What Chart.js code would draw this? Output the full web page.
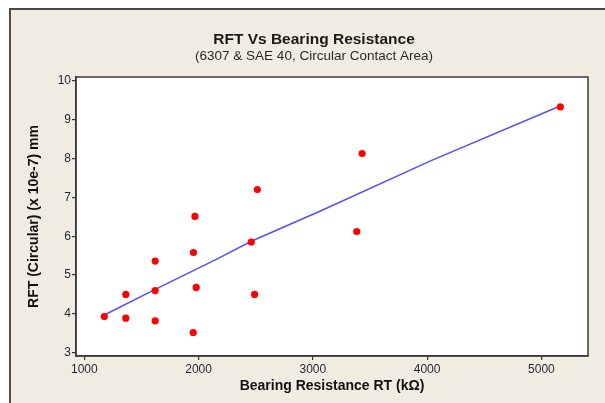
<!DOCTYPE html>
<html>
<head>
<meta charset="utf-8">
<script src="https://cdn.jsdelivr.net/npm/chart.js@4"></script>
<style>
html,body{margin:0;padding:0;background:#fff;}
canvas{display:block;}
</style>
</head>
<body>
<canvas id="c" width="605" height="403"></canvas>
<script>
// Data
const bearingResistance = [1175, 1363, 1363, 1620, 1620, 1620, 1955, 1968, 1979, 1953, 2461, 2514, 2490, 3431, 3384, 5166];
const rftCircular       = [3.93, 4.50, 3.89, 5.36, 4.60, 3.82, 5.58, 6.51, 4.68, 3.52, 5.85, 7.20, 4.50, 8.13, 6.12, 9.33];
// Fitted line
const fitX = [1175, 1620, 2146, 2461, 3066, 4030, 5169];
const fitY = [3.97, 4.63, 5.39, 5.87, 6.65, 7.94, 9.36];
// Tick labels
const xTicks = [1000, 2000, 3000, 4000, 5000];
const yTicks = [3, 4, 5, 6, 7, 8, 9, 10];

const titleText = 'RFT Vs Bearing Resistance';
const subtitleText = '(6307 & SAE 40, Circular Contact Area)';
const xTitle = 'Bearing Resistance RT (kΩ)';
const yTitle = 'RFT (Circular) (x 10e-7) mm';

const FONT = '"Liberation Sans", Arial, sans-serif';

const framePlugin = {
  id: 'frame',
  beforeDraw(chart) {
    const ctx = chart.ctx, W = chart.width, H = chart.height, a = chart.chartArea;
    ctx.save();
    ctx.fillStyle = '#ffffff';
    ctx.fillRect(0, 0, W, H);
    ctx.fillStyle = '#F0ECE2';
    ctx.fillRect(9, 8, W - 9, H - 8);
    ctx.fillStyle = '#4a4a4a';
    ctx.fillRect(9, 8, W - 9, 2);
    ctx.fillRect(9, 8, 2, H - 8);
    ctx.fillStyle = '#ffffff';
    ctx.fillRect(a.left, a.top, a.right - a.left, a.bottom - a.top);
    ctx.restore();
  },
  afterDraw(chart) {
    const ctx = chart.ctx, a = chart.chartArea;
    ctx.save();
    ctx.strokeStyle = '#3a3a3a';
    ctx.lineWidth = 1.5;
    ctx.strokeRect(a.left, a.top, a.right - a.left, a.bottom - a.top);
    ctx.fillStyle = '#1a1a1a';
    ctx.textAlign = 'center';
    ctx.textBaseline = 'middle';
    ctx.font = 'bold 15.5px ' + FONT;
    ctx.fillText(titleText, 314, 40);
    ctx.fillStyle = '#2a2a2a';
    ctx.font = '13.5px ' + FONT;
    ctx.fillText(subtitleText, 314, 56);
    ctx.restore();
  }
};

new Chart(document.getElementById('c'), {
  type: 'scatter',
  data: {
    datasets: [
      {
        label: 'RFT',
        data: bearingResistance.map((x, i) => ({x: x, y: rftCircular[i]})),
        backgroundColor: '#FF0000',
        borderColor: '#FF0000',
        pointRadius: 3.6,
        pointBorderWidth: 0,
        showLine: false
      },
      {
        type: 'line',
        label: 'Fit',
        data: fitX.map((x, i) => ({x: x, y: fitY[i]})),
        borderColor: '#5252FF',
        borderWidth: 1.6,
        pointRadius: 0,
        fill: false,
        tension: 0
      }
    ]
  },
  options: {
    responsive: false,
    animation: false,
    layout: { padding: { left: 10, right: 17, top: 77, bottom: 0 } },
    plugins: {
      legend: { display: false },
      tooltip: { enabled: false },
      title: { display: false }
    },
    scales: {
      x: {
        type: 'linear',
        min: 927, max: 5408,
        afterBuildTicks: s => { s.ticks = xTicks.map(v => ({value: v})); },
        afterFit: s => { s.height = 47; },
        grid: { display: true, drawOnChartArea: false, drawTicks: true, tickLength: 4, color: '#333', lineWidth: 1.2 },
        border: { display: true, color: '#3a3a3a', width: 1.5 },
        ticks: { padding: 2, color: '#1f2630', font: { family: FONT, size: 12 }, maxRotation: 0, callback: v => String(v) },
        title: { display: true, text: xTitle, color: '#111', font: { family: FONT, size: 14, weight: 'bold' }, padding: { top: 0, bottom: 8 } }
      },
      y: {
        type: 'linear',
        min: 2.915, max: 10.1,
        afterBuildTicks: s => { s.ticks = yTicks.map(v => ({value: v})); },
        afterFit: s => { s.width = 66; },
        grid: { display: true, drawOnChartArea: false, drawTicks: true, tickLength: 4, color: '#333', lineWidth: 1.2 },
        border: { display: true, color: '#3a3a3a', width: 1.5 },
        ticks: { padding: 1, color: '#1f2630', font: { family: FONT, size: 12 }, callback: v => String(v) },
        title: { display: true, text: yTitle, color: '#111', font: { family: FONT, size: 14, weight: 'bold' }, padding: { top: 16, bottom: 0 } }
      }
    }
  },
  plugins: [framePlugin]
});
</script>
</body>
</html>
